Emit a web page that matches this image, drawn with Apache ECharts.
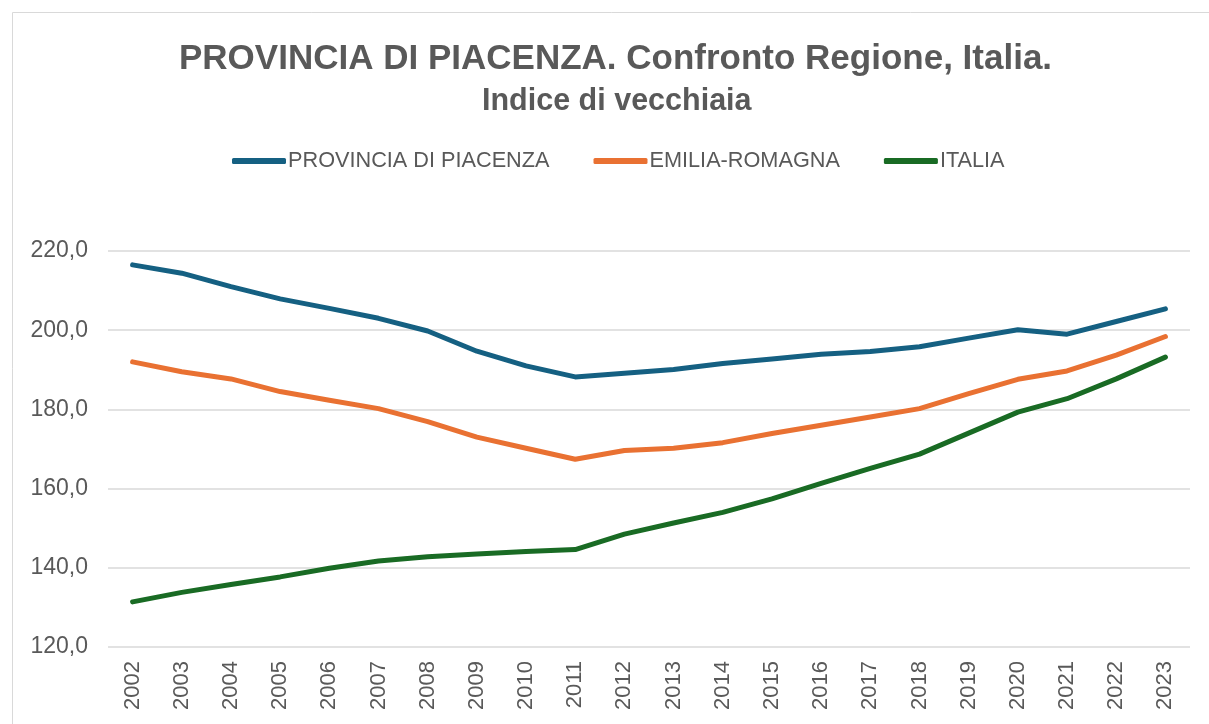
<!DOCTYPE html>
<html>
<head>
<meta charset="utf-8">
<script src="https://cdn.jsdelivr.net/npm/echarts@6/dist/echarts.min.js"></script>
<style>
	html, body { margin: 0; padding: 0; background: #ffffff; }
	#chart { width: 1209px; height: 724px; }
</style>
</head>
<body>
<div id="chart"></div>
<script>
	// anni
	var anni = ['2002','2003','2004','2005','2006','2007','2008','2009','2010','2011','2012',
		'2013','2014','2015','2016','2017','2018','2019','2020','2021','2022','2023'];

	// indice di vecchiaia
	var piacenza = [216.5, 214.4, 211.0, 207.9, 205.5, 203.0, 199.8, 194.7, 191.0, 188.2, 189.1,
		190.1, 191.6, 192.7, 193.9, 194.6, 195.8, 198.0, 200.1, 199.0, 202.2, 205.4];
	var emilia = [192.0, 189.5, 187.7, 184.5, 182.3, 180.2, 176.9, 173.0, 170.2, 167.4, 169.6,
		170.2, 171.6, 173.9, 176.0, 178.1, 180.2, 184.0, 187.6, 189.7, 193.7, 198.4];
	var italia = [131.4, 133.8, 135.8, 137.7, 139.9, 141.7, 142.8, 143.5, 144.1, 144.6, 148.5,
		151.3, 154.0, 157.4, 161.3, 165.1, 168.7, 174.0, 179.3, 182.7, 187.7, 193.2];

	var yTicks = { min: 120, max: 220, step: 20 };

	var myChart = echarts.init(document.getElementById('chart'));
	var grigio = '#595959';

	var option = {
		color: ['#156082', '#E97132', '#196B24'],
		animation: false,
		title: [
			{
				text: 'PROVINCIA DI PIACENZA. Confronto Regione, Italia.',
				left: 174,
				top: 37,
				textStyle: { fontFamily: 'Liberation Sans', fontSize: 35, fontWeight: 'bold', color: grigio }
			},
			{
				text: 'Indice di vecchiaia',
				left: 477,
				top: 81,
				textStyle: { fontFamily: 'Liberation Sans', fontSize: 30.5, fontWeight: 'bold', color: grigio }
			}
		],
		legend: {
			top: 145,
			left: 227,
			itemWidth: 54,
			itemHeight: 6,
			itemGap: 44,
			icon: 'roundRect',
			textStyle: { fontFamily: 'Liberation Sans', fontSize: 21.7, color: grigio, padding: [0, 0, 0, -3] },
			data: ['PROVINCIA DI PIACENZA', 'EMILIA-ROMAGNA', 'ITALIA']
		},
		grid: {
			left: 108,
			right: 19,
			top: 251,
			bottom: 77
		},
		xAxis: {
			type: 'category',
			data: anni,
			boundaryGap: true,
			axisLine: { show: false },
			axisTick: { show: false },
			axisLabel: {
				rotate: 90,
				margin: 14,
				fontFamily: 'Liberation Sans',
				fontSize: 22,
				color: grigio
			}
		},
		yAxis: {
			type: 'value',
			min: yTicks.min,
			max: yTicks.max,
			interval: yTicks.step,
			axisLine: { show: false },
			axisTick: { show: false },
			splitLine: { lineStyle: { color: '#d9d9d9', width: 1.5 } },
			axisLabel: {
				margin: 20,
				fontFamily: 'Liberation Sans',
				fontSize: 23,
				color: grigio,
				formatter: function (v) { return v.toFixed(1).replace('.', ','); }
			}
		},
		series: [
			{ name: 'PROVINCIA DI PIACENZA', type: 'line', data: piacenza, symbol: 'none',
				lineStyle: { width: 5, cap: 'round', join: 'round' } },
			{ name: 'EMILIA-ROMAGNA', type: 'line', data: emilia, symbol: 'none',
				lineStyle: { width: 5, cap: 'round', join: 'round' } },
			{ name: 'ITALIA', type: 'line', data: italia, symbol: 'none',
				lineStyle: { width: 5, cap: 'round', join: 'round' } }
		],
		graphic: [
			{
				type: 'rect',
				silent: true,
				shape: { x: 12.5, y: 12.5, width: 1220, height: 730 },
				style: { fill: 'none', stroke: '#d9d9d9', lineWidth: 1 }
			}
		]
	};

	option && myChart.setOption(option);
</script>
</body>
</html>
